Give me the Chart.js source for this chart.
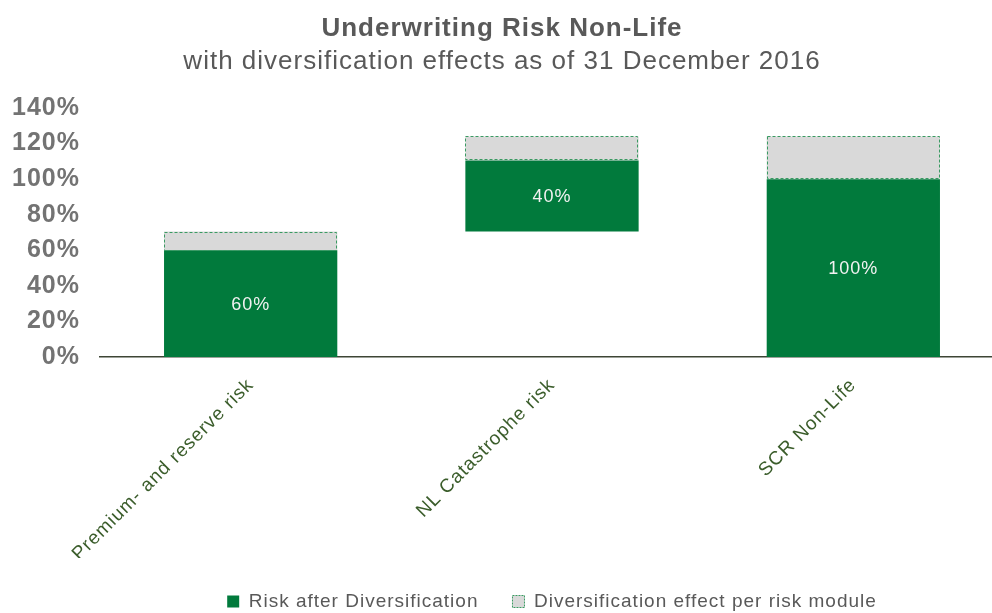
<!DOCTYPE html>
<html>
<head>
<meta charset="utf-8">
<script src="https://cdn.jsdelivr.net/npm/chart.js@4"></script>
<style>
  html, body { margin: 0; padding: 0; background: #fff; overflow: hidden; }
  #wrap { width: 1024px; height: 613px; position: relative; }
</style>
</head>
<body>
<div id="wrap"><canvas id="riskChart"></canvas></div>
<script>
// categories and values (percent of SCR Non-Life)
const categories = ['Premium- and reserve risk', 'NL Catastrophe risk', 'SCR Non-Life'];
const baseOffset = [0, 70.5, 0];          // invisible start of each floating bar
const riskAfter = [60, 40, 100];          // Risk after Diversification
const divEffect = [10.5, 13.5, 24];       // Diversification effect per risk module
const yTicks = [0, 20, 40, 60, 80, 100, 120, 140];

const GREEN = '#017a3c';
const GREY = '#d9d9d9';
const DASH_GREEN = '#3a9a62';
const FONT = '"Liberation Sans", Arial, sans-serif';

// the original text is a bit wider than Arial, so space the letters a little
const spacing = {
    id: 'spacing',
    beforeUpdate(chart) { chart.ctx.letterSpacing = '1px'; },
    beforeDraw(chart) { chart.ctx.letterSpacing = '1px'; }
};

// draws dashed outline round the grey bars and the value labels inside the green bars
const barExtras = {
    id: 'barExtras',
    afterDatasetsDraw(chart) {
        const ctx = chart.ctx;
        ctx.save();
        ctx.strokeStyle = DASH_GREEN;
        ctx.lineWidth = 1;
        ctx.setLineDash([3, 2]);
        chart.getDatasetMeta(2).data.forEach(bar => {
            const p = bar.getProps(['x', 'y', 'base', 'width'], true);
            const top = Math.min(p.y, p.base);
            ctx.strokeRect(Math.round(p.x - p.width / 2) + 0.5, Math.round(top) + 0.5,
                Math.round(p.width) - 1, Math.round(Math.abs(p.base - p.y)) - 1);
        });
        ctx.setLineDash([]);
        ctx.fillStyle = '#f2f2f2';
        ctx.font = '18px ' + FONT;
        ctx.textAlign = 'center';
        ctx.textBaseline = 'middle';
        chart.getDatasetMeta(1).data.forEach((bar, i) => {
            const p = bar.getProps(['x', 'y', 'base'], true);
            ctx.fillText(riskAfter[i] + '%', p.x, (p.y + p.base) / 2 + 1);
        });
        ctx.restore();
    }
};

function createChart() {
    const ctx = document.getElementById('riskChart').getContext('2d');
    new Chart(ctx, {
        type: 'bar',
        data: {
            labels: categories,
            datasets: [
                {
                    label: 'base',
                    data: baseOffset,
                    backgroundColor: 'rgba(0,0,0,0)',
                    borderWidth: 0
                },
                {
                    label: 'Risk after Diversification',
                    data: riskAfter,
                    backgroundColor: GREEN,
                    borderWidth: 0
                },
                {
                    label: 'Diversification effect per risk module',
                    data: divEffect,
                    backgroundColor: GREY,
                    borderWidth: 0
                }
            ]
        },
        options: {
            responsive: true,
            maintainAspectRatio: false,
            animation: false,
            layout: { padding: { left: 0, right: 20, top: 0, bottom: -8 } },
            datasets: {
                bar: { categoryPercentage: 1, barPercentage: 0.575 }
            },
            scales: {
                x: {
                    stacked: true,
                    grid: { display: false, drawTicks: false },
                    border: { display: true, color: '#3d4535', width: 1.5 },
                    ticks: {
                        minRotation: 45,
                        maxRotation: 45,
                        padding: 17,
                        color: '#3b5d2b',
                        font: { family: FONT, size: 19 }
                    },
                    afterFit(scale) { scale.height = 201; }
                },
                y: {
                    stacked: true,
                    min: 0,
                    max: 140,
                    afterBuildTicks(scale) { scale.ticks = yTicks.map(v => ({ value: v })); },
                    grid: { display: false, drawTicks: false },
                    border: { display: false },
                    ticks: {
                        autoSkip: false,
                        padding: 20,
                        color: '#737373',
                        font: { family: FONT, size: 25, weight: 'bold' },
                        callback: v => v + '%'
                    },
                    afterFit(scale) { scale.width = 100; }
                }
            },
            plugins: {
                title: {
                    display: true,
                    text: 'Underwriting Risk Non-Life',
                    color: '#595959',
                    font: { family: FONT, size: 26, weight: 'bold' },
                    padding: { top: 13, bottom: 2 }
                },
                subtitle: {
                    display: true,
                    text: 'with diversification effects as of 31 December 2016',
                    color: '#595959',
                    font: { family: FONT, size: 26, weight: 'normal' },
                    padding: { top: 0, bottom: 30.6 }
                },
                legend: {
                    position: 'bottom',
                    fullSize: false,
                    labels: {
                        color: '#595959',
                        font: { family: FONT, size: 19 },
                        boxWidth: 12,
                        boxHeight: 12,
                        padding: 34,
                        generateLabels(chart) {
                            const items = Chart.defaults.plugins.legend.labels.generateLabels(chart);
                            items.forEach(item => {
                                if (item.datasetIndex === 2) {
                                    item.strokeStyle = DASH_GREEN;
                                    item.lineWidth = 1;
                                    item.lineDash = [2, 1];
                                } else {
                                    item.lineWidth = 0;
                                }
                            });
                            return items.filter(item => item.datasetIndex !== 0);
                        }
                    }
                },
                tooltip: { enabled: false }
            }
        },
        plugins: [spacing, barExtras]
    });
}
createChart();
</script>
</body>
</html>
